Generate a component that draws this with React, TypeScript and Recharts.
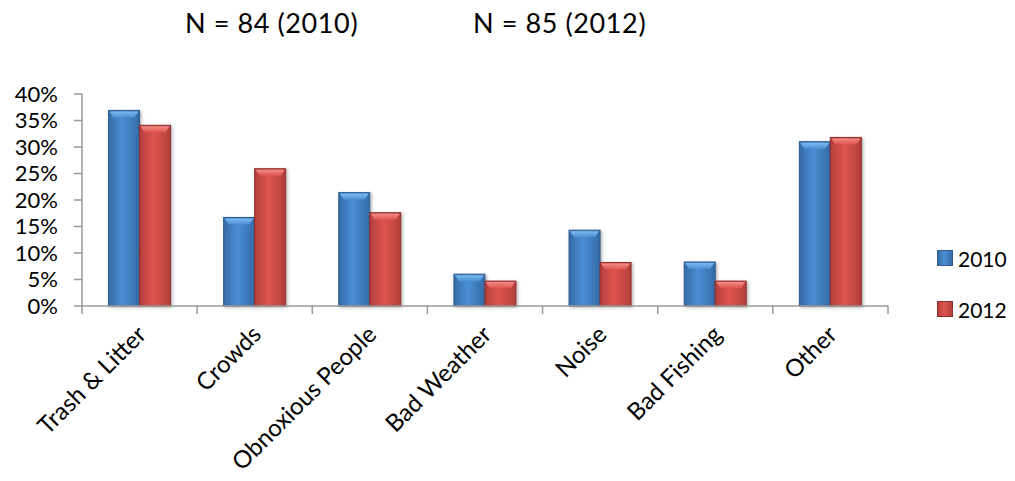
import React from "react";
import { BarChart, Bar, XAxis, YAxis, Legend } from "recharts";

const categories = [
  "Trash & Litter",
  "Crowds",
  "Obnoxious People",
  "Bad Weather",
  "Noise",
  "Bad Fishing",
  "Other",
];
// share of respondents (%), N = 84 in 2010 and N = 85 in 2012
const values2010 = [36.9, 16.7, 21.4, 6.0, 14.3, 8.3, 31.0];
const values2012 = [34.1, 25.9, 17.6, 4.7, 8.2, 4.7, 31.8];
const yTicks = [0, 5, 10, 15, 20, 25, 30, 35, 40];
const sampleLabels = ["N = 84 (2010)", "N = 85 (2012)"];

const data = categories.map((name, i) => ({
  name,
  y2010: values2010[i],
  y2012: values2012[i],
}));

const FONT = "Lato, 'Open Sans', sans-serif";
const AXIS = "#9a9a9a";

const palette = {
  blue: { id: "blue", dark: "#356aa6", mid: "#4a8fd6", light: "#7dbaf0", edge: "#2d5b8e" },
  red: { id: "red", dark: "#b23f3b", mid: "#e0544f", light: "#f28c87", edge: "#8e302c" },
};

type Pal = typeof palette.blue;

const Gradients = ({ p }: { p: Pal }) => (
  <>
    <linearGradient id={`body-${p.id}`} x1="0" y1="0" x2="1" y2="0">
      <stop offset="0%" stopColor={p.dark} />
      <stop offset="45%" stopColor={p.mid} />
      <stop offset="100%" stopColor={p.dark} />
    </linearGradient>
    <linearGradient id={`cap-${p.id}`} x1="0" y1="0" x2="0" y2="1">
      <stop offset="0%" stopColor={p.light} />
      <stop offset="100%" stopColor={p.mid} />
    </linearGradient>
  </>
);

// bevelled Excel-style column
const makeShape = (p: Pal) => (props: any) => {
  const { x, y, width, height } = props;
  if (!height || height <= 0) return null;
  const bevel = Math.min(7, height / 2);
  return (
    <g filter="url(#barShadow)">
      <rect x={x} y={y} width={width} height={height} fill={`url(#body-${p.id})`} stroke={p.edge} strokeWidth={1} />
      <polygon
        points={`${x + 1},${y + 1} ${x + width - 1},${y + 1} ${x + width - 5},${y + bevel} ${x + 5},${y + bevel}`}
        fill={`url(#cap-${p.id})`}
      />
    </g>
  );
};

const CategoryTick = (props: any) => {
  const { x, y, payload, index, visibleTicksCount } = props;
  const half = payload?.offset ?? 57.5;
  const last = index === (visibleTicksCount ?? categories.length) - 1;
  return (
    <g>
      <line x1={x - half} x2={x - half} y1={y} y2={y + 8} stroke={AXIS} strokeWidth={1.5} />
      {last && <line x1={x + half} x2={x + half} y1={y} y2={y + 8} stroke={AXIS} strokeWidth={1.5} />}
      <text
        x={x + 8}
        y={y + 30}
        textAnchor="end"
        transform={`rotate(-45, ${x + 8}, ${y + 30})`}
        fontFamily={FONT}
        fontSize={24}
        fill="#000"
      >
        {payload.value}
      </text>
    </g>
  );
};

const LegendContent = () => {
  const rows = [
    { label: "2010", p: palette.blue },
    { label: "2012", p: palette.red },
  ];
  return (
    <div style={{ fontFamily: FONT, fontSize: 21 }}>
      {rows.map((r, i) => (
        <div key={r.label} style={{ display: "flex", alignItems: "center", height: 28, marginTop: i ? 23 : 0 }}>
          <svg width={16} height={16} style={{ marginRight: 5, flexShrink: 0 }}>
            <defs>
              <Gradients p={r.p} />
            </defs>
            <rect x={0.5} y={0.5} width={15} height={15} fill={`url(#body-${r.p.id})`} stroke={r.p.edge} />
          </svg>
          <span style={{ whiteSpace: "nowrap" }}>{r.label}</span>
        </div>
      ))}
    </div>
  );
};

export default function App() {
  return (
    <div style={{ position: "relative", width: 999, height: 465, fontFamily: FONT }}>
      <style>{".recharts-surface { overflow: visible; }"}</style>
      {sampleLabels.map((t, i) => (
        <span
          key={t}
          style={{
            position: "absolute",
            left: i === 0 ? 177 : 465,
            top: -2,
            fontSize: 27,
            letterSpacing: 0.6,
            color: "#000",
            whiteSpace: "nowrap",
          }}
        >
          {t}
        </span>
      ))}
      <BarChart
        width={999}
        height={465}
        data={data}
        margin={{ top: 86, right: 119, left: 0, bottom: 0 }}
        barCategoryGap="23%"
        barGap={0}
      >
        <defs>
          <Gradients p={palette.blue} />
          <Gradients p={palette.red} />
          <filter id="barShadow" x="-20%" y="-10%" width="140%" height="130%">
            <feDropShadow dx={1.5} dy={1} stdDeviation={1.5} floodColor="#000" floodOpacity={0.3} />
          </filter>
        </defs>
        <XAxis
          dataKey="name"
          height={167}
          interval={0}
          axisLine={{ stroke: AXIS, strokeWidth: 1.5 }}
          tickLine={false}
          tickSize={0}
          tickMargin={0}
          tick={<CategoryTick />}
        />
        <YAxis
          width={74}
          domain={[0, 40]}
          ticks={yTicks}
          interval={0}
          tickFormatter={(v) => `${v}%`}
          axisLine={{ stroke: AXIS, strokeWidth: 1.5 }}
          tickLine={{ stroke: AXIS, strokeWidth: 1.5 }}
          tickSize={8}
          tickMargin={16}
          tick={{ fontFamily: FONT, fontSize: 22, fill: "#000" }}
        />
        <Legend
          layout="horizontal"
          align="center"
          verticalAlign="middle"
          content={<LegendContent />}
          wrapperStyle={{ left: 929, top: 236, width: 70, height: 90 }}
        />
        <Bar dataKey="y2010" name="2010" fill={palette.blue.mid} shape={makeShape(palette.blue)} isAnimationActive={false} />
        <Bar dataKey="y2012" name="2012" fill={palette.red.mid} shape={makeShape(palette.red)} isAnimationActive={false} />
      </BarChart>
    </div>
  );
}
